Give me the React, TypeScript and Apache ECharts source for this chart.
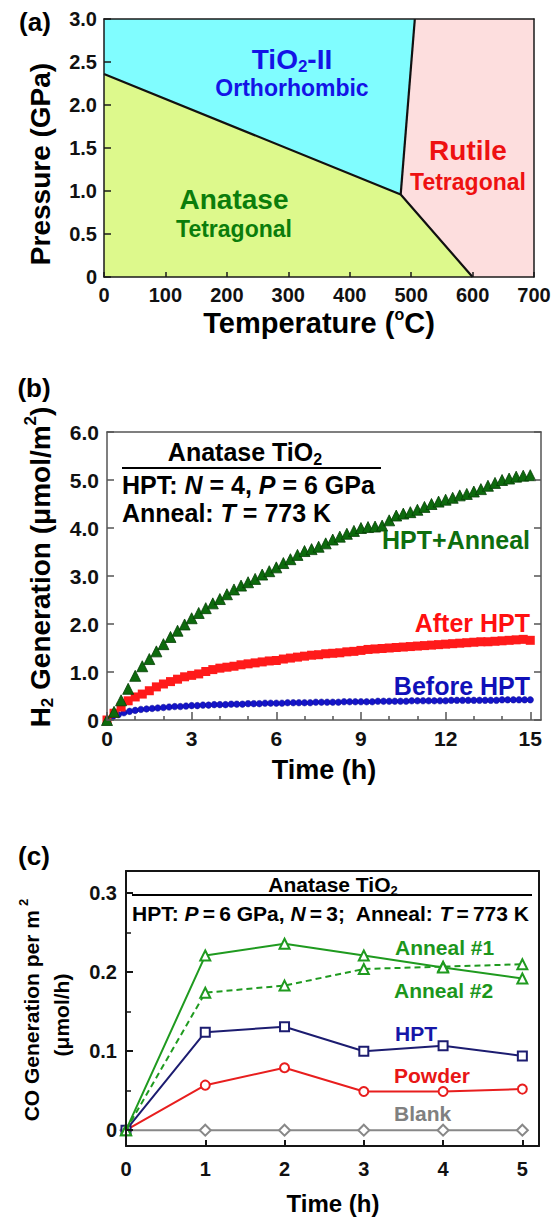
import React, { useEffect, useRef } from 'react';
import * as echarts from 'echarts';

const FONT = 'Liberation Sans, Arial, Helvetica, sans-serif';

// ---------- Panel (a): TiO2 phase diagram ----------
const phaseNames = ['Anatase', 'TiO2-II', 'Rutile'];
const anataseRegion = [[0, 0], [0, 2.36], [483, 0.96], [600, 0]];
const tio2IIRegion = [[0, 2.36], [0, 3], [506, 3], [483, 0.96]];
const rutileRegion = [[506, 3], [700, 3], [700, 0], [600, 0], [483, 0.96]];
const phaseRegions = [anataseRegion, tio2IIRegion, rutileRegion];
const phaseColors = ['#ddf98c', '#80fdff', '#fddede'];
const boundaryAnataseLow = [[0, 2.36], [483, 0.96], [600, 0]];
const boundaryRutile = [[483, 0.96], [506, 3]];

// ---------- Panel (b): H2 generation ----------
const hoursQuarter = [0, 0.25, 0.5, 0.75, 1, 1.25, 1.5, 1.75, 2, 2.25, 2.5, 2.75, 3, 3.25, 3.5, 3.75, 4, 4.25, 4.5, 4.75, 5, 5.25, 5.5, 5.75, 6, 6.25, 6.5, 6.75, 7, 7.25, 7.5, 7.75, 8, 8.25, 8.5, 8.75, 9, 9.25, 9.5, 9.75, 10, 10.25, 10.5, 10.75, 11, 11.25, 11.5, 11.75, 12, 12.25, 12.5, 12.75, 13, 13.25, 13.5, 13.75, 14, 14.25, 14.5, 14.75, 15];
const hptAnneal = [0, 0.17, 0.41, 0.65, 0.92, 1.12, 1.27, 1.43, 1.58, 1.73, 1.86, 1.99, 2.12, 2.23, 2.33, 2.43, 2.52, 2.62, 2.72, 2.80, 2.87, 2.94, 3.03, 3.10, 3.18, 3.27, 3.35, 3.44, 3.52, 3.56, 3.61, 3.68, 3.76, 3.82, 3.88, 3.94, 4.00, 4.02, 4.03, 4.05, 4.16, 4.26, 4.30, 4.33, 4.38, 4.44, 4.50, 4.55, 4.59, 4.63, 4.68, 4.71, 4.76, 4.81, 4.88, 4.94, 5.00, 5.03, 5.07, 5.09, 5.10];
const afterHpt = [0, 0.14, 0.27, 0.40, 0.48, 0.54, 0.61, 0.69, 0.75, 0.80, 0.85, 0.90, 0.93, 0.96, 1.01, 1.05, 1.08, 1.10, 1.12, 1.15, 1.17, 1.19, 1.21, 1.23, 1.24, 1.27, 1.29, 1.31, 1.33, 1.35, 1.36, 1.38, 1.39, 1.40, 1.42, 1.43, 1.45, 1.47, 1.48, 1.49, 1.50, 1.51, 1.52, 1.53, 1.54, 1.55, 1.56, 1.57, 1.58, 1.59, 1.60, 1.61, 1.62, 1.63, 1.63, 1.64, 1.65, 1.66, 1.67, 1.68, 1.66];
const hoursFifth = [0, 0.2, 0.4, 0.6, 0.8, 1, 1.2, 1.4, 1.6, 1.8, 2, 2.2, 2.4, 2.6, 2.8, 3, 3.2, 3.4, 3.6, 3.8, 4, 4.2, 4.4, 4.6, 4.8, 5, 5.2, 5.4, 5.6, 5.8, 6, 6.2, 6.4, 6.6, 6.8, 7, 7.2, 7.4, 7.6, 7.8, 8, 8.2, 8.4, 8.6, 8.8, 9, 9.2, 9.4, 9.6, 9.8, 10, 10.2, 10.4, 10.6, 10.8, 11, 11.2, 11.4, 11.6, 11.8, 12, 12.2, 12.4, 12.6, 12.8, 13, 13.2, 13.4, 13.6, 13.8, 14, 14.2, 14.4, 14.6, 14.8, 15];
const beforeHpt = [0, 0.07, 0.11, 0.15, 0.18, 0.20, 0.22, 0.23, 0.24, 0.25, 0.26, 0.27, 0.28, 0.28, 0.29, 0.30, 0.30, 0.31, 0.31, 0.32, 0.32, 0.32, 0.33, 0.33, 0.33, 0.34, 0.34, 0.34, 0.35, 0.35, 0.35, 0.35, 0.36, 0.36, 0.36, 0.36, 0.36, 0.37, 0.37, 0.37, 0.37, 0.37, 0.38, 0.38, 0.38, 0.38, 0.38, 0.38, 0.39, 0.39, 0.39, 0.39, 0.39, 0.39, 0.40, 0.40, 0.40, 0.40, 0.40, 0.40, 0.40, 0.41, 0.41, 0.41, 0.41, 0.41, 0.41, 0.41, 0.41, 0.41, 0.42, 0.42, 0.42, 0.42, 0.42, 0.42];
const bTimeLabels = [0, 3, 6, 9, 12, 15];
const bTimeMinor = [1, 2, 4, 5, 7, 8, 10, 11, 13, 14];

// ---------- Panel (c): CO generation ----------
const hoursC = [0, 1, 2, 3, 4, 5];
const anneal1 = [0, 0.221, 0.236, 0.221, 0.206, 0.192];
const anneal2 = [0, 0.174, 0.183, 0.204, 0.207, 0.210];
const hptC = [0, 0.124, 0.131, 0.100, 0.107, 0.094];
const powder = [0, 0.057, 0.079, 0.049, 0.049, 0.052];
const blank = [0, 0, 0, 0, 0, 0];
const cYLabels = [0, 0.1, 0.2, 0.3];
const cYMinor = [0.05, 0.15, 0.25];

const zip = (xs: number[], ys: number[]) => xs.map((x, i) => [x, ys[i]]);
const fmt1 = (v: number) => (Math.abs(v) < 1e-9 ? '0' : v.toFixed(1));

const fontOf = (size: number, extra: any = {}) => ({
  fontSize: size, fontWeight: 'bold', fontFamily: FONT, fontStyle: 'normal', ...extra,
});

function richFor(size: number, color: string) {
  const sub = Math.round(size * 0.62);
  return {
    n: { ...fontOf(size), fill: color },
    i: { ...fontOf(size, { fontStyle: 'italic' }), fill: color },
    sub: { ...fontOf(sub), fill: color, padding: [Math.round(size * 0.55), 0, 0, 0] },
    sup: { ...fontOf(sub), fill: color, padding: [0, 0, Math.round(size * 0.7), 0] },
    deg: { ...fontOf(Math.round(size * 0.55)), fill: color, padding: [0, 0, Math.round(size * 0.6), 0] },
  };
}

function txt(x: number, y: number, text: string, size: number, color = '#000', align = 'center', rotation = 0) {
  return {
    type: 'text', x, y, rotation, silent: true, z: 100,
    style: {
      text, fill: color, ...fontOf(size), align, verticalAlign: 'middle', rich: richFor(size, color),
    },
  };
}

function hline(x1: number, x2: number, y: number) {
  return { type: 'line', silent: true, z: 100, shape: { x1, y1: y, x2, y2: y }, style: { stroke: '#000', lineWidth: 2 } };
}

function borderAxis(gridIndex: number, position: string, color: string, width: number) {
  return {
    gridIndex, type: 'value', position, min: 0, max: 1, z: 10,
    axisLine: { show: true, onZero: false, lineStyle: { color, width } },
    axisTick: { show: false }, axisLabel: { show: false }, splitLine: { show: false },
  };
}

function buildOption() {
  const lab = { fontSize: 20, fontWeight: 'bold', fontFamily: FONT, color: '#111' };
  const colA = '#1a1a1a';
  const colB = '#555';
  const colC = '#151515';
  return {
    animation: false,
    backgroundColor: '#fff',
    grid: [
      { left: 104, top: 19, width: 430, height: 258, outerBoundsMode: 'none', containLabel: false },
      { left: 107, top: 432, width: 434, height: 288, outerBoundsMode: 'none', containLabel: false },
      { left: 126, top: 871, width: 413, height: 275, outerBoundsMode: 'none', containLabel: false },
    ],
    xAxis: [
      {
        gridIndex: 0, type: 'value', position: 'bottom', min: 0, max: 700, interval: 100, z: 10,
        axisLine: { show: true, onZero: false, lineStyle: { color: colA, width: 1.5 } },
        axisTick: { show: true, inside: true, length: 5, lineStyle: { color: colA, width: 1.5 } },
        axisLabel: { ...lab, margin: 8, showMinLabel: true, showMaxLabel: true },
        splitLine: { show: false },
      },
      borderAxis(0, 'top', colA, 1.5),
      {
        gridIndex: 1, type: 'value', position: 'bottom', min: 0, max: 15.38, z: 10,
        axisLine: { show: true, onZero: false, lineStyle: { color: colB, width: 1.5 } },
        axisTick: { show: true, inside: true, length: 8, customValues: bTimeLabels, lineStyle: { color: colB, width: 1.5 } },
        axisLabel: { ...lab, fontSize: 21, margin: 8, customValues: bTimeLabels },
        splitLine: { show: false },
      },
      {
        gridIndex: 1, type: 'value', position: 'bottom', min: 0, max: 15.38, z: 10,
        axisLine: { show: false, onZero: false },
        axisTick: { show: true, inside: true, length: 4, customValues: bTimeMinor, lineStyle: { color: colB, width: 1.5 } },
        axisLabel: { show: false },
        splitLine: { show: false },
      },
      borderAxis(1, 'top', colB, 1.5),
      {
        gridIndex: 2, type: 'value', position: 'bottom', min: 0, max: 5.21, z: 10,
        axisLine: { show: true, onZero: false, lineStyle: { color: colC, width: 2 } },
        axisTick: { show: true, inside: true, length: 6, customValues: hoursC, lineStyle: { color: colC, width: 2 } },
        axisLabel: { ...lab, margin: 13, customValues: hoursC },
        splitLine: { show: false },
      },
      borderAxis(2, 'top', colC, 2),
    ],
    yAxis: [
      {
        gridIndex: 0, type: 'value', position: 'left', min: 0, max: 3, interval: 0.5, z: 10,
        axisLine: { show: true, onZero: false, lineStyle: { color: colA, width: 1.5 } },
        axisTick: { show: true, inside: true, length: 7, lineStyle: { color: colA, width: 1.5 } },
        axisLabel: { ...lab, margin: 7, formatter: fmt1, showMinLabel: true, showMaxLabel: true },
        splitLine: { show: false },
      },
      borderAxis(0, 'right', colA, 1.5),
      {
        gridIndex: 1, type: 'value', position: 'left', min: 0, max: 6, interval: 1, z: 10,
        axisLine: { show: true, onZero: false, lineStyle: { color: colB, width: 1.5 } },
        axisTick: { show: true, inside: true, length: 7, lineStyle: { color: colB, width: 1.5 } },
        axisLabel: { ...lab, fontSize: 21, margin: 8, formatter: fmt1, showMinLabel: true, showMaxLabel: true },
        splitLine: { show: false },
      },
      {
        gridIndex: 1, type: 'value', position: 'right', min: 0, max: 6, interval: 1, z: 10,
        axisLine: { show: true, onZero: false, lineStyle: { color: colB, width: 1.5 } },
        axisTick: { show: true, inside: true, length: 7, lineStyle: { color: colB, width: 1.5 } },
        axisLabel: { show: false },
        splitLine: { show: false },
      },
      {
        gridIndex: 2, type: 'value', position: 'left', min: -0.02, max: 0.328, z: 10,
        axisLine: { show: true, onZero: false, lineStyle: { color: colC, width: 2 } },
        axisTick: { show: true, inside: true, length: 7, customValues: cYLabels, lineStyle: { color: colC, width: 2 } },
        axisLabel: { ...lab, margin: 9, customValues: cYLabels, formatter: fmt1 },
        splitLine: { show: false },
      },
      {
        gridIndex: 2, type: 'value', position: 'left', min: -0.02, max: 0.328, z: 10,
        axisLine: { show: false, onZero: false },
        axisTick: { show: true, inside: true, length: 5, customValues: cYMinor, lineStyle: { color: colC, width: 1.5 } },
        axisLabel: { show: false },
        splitLine: { show: false },
      },
      borderAxis(2, 'right', colC, 2),
    ],
    series: [
      {
        type: 'custom', name: 'phases', xAxisIndex: 0, yAxisIndex: 0, z: 2,
        data: phaseNames.map((name, i) => ({ name, value: phaseRegions[i][0] })),
        renderItem: (params: any, api: any) => {
          const region = phaseRegions[params.dataIndex];
          const points = region.map((p) => api.coord(p));
          return { type: 'polygon', shape: { points }, style: { fill: phaseColors[params.dataIndex] } };
        },
        silent: true,
      },
      {
        type: 'line', name: 'boundary1', xAxisIndex: 0, yAxisIndex: 0, z: 4,
        data: boundaryAnataseLow, showSymbol: false, symbol: 'none',
        lineStyle: { color: '#111', width: 2.2 }, silent: true,
      },
      {
        type: 'line', name: 'boundary2', xAxisIndex: 0, yAxisIndex: 0, z: 4,
        data: boundaryRutile, showSymbol: false, symbol: 'none',
        lineStyle: { color: '#111', width: 2.2 }, silent: true,
      },
      {
        type: 'scatter', name: 'Before HPT', xAxisIndex: 2, yAxisIndex: 2, z: 3,
        data: zip(hoursFifth, beforeHpt), symbol: 'circle', symbolSize: 6.5,
        itemStyle: { color: '#1414c8', borderColor: '#0a0a90', borderWidth: 0.5, opacity: 1 }, silent: true,
      },
      {
        type: 'scatter', name: 'After HPT', xAxisIndex: 2, yAxisIndex: 2, z: 4,
        data: zip(hoursQuarter, afterHpt), symbol: 'rect', symbolSize: 9,
        itemStyle: { color: '#ff1a1a', opacity: 1 }, silent: true,
      },
      {
        type: 'scatter', name: 'HPT+Anneal', xAxisIndex: 2, yAxisIndex: 2, z: 5,
        data: zip(hoursQuarter, hptAnneal), symbol: 'triangle', symbolSize: 11,
        itemStyle: { color: '#0d6a0d', borderColor: '#054005', borderWidth: 0.8, opacity: 1 }, silent: true,
      },
      {
        type: 'line', name: 'Blank', xAxisIndex: 5, yAxisIndex: 4, z: 3,
        data: zip(hoursC, blank), symbol: 'emptyDiamond', symbolSize: 11,
        lineStyle: { color: '#888', width: 2 }, itemStyle: { color: '#888', borderColor: '#888', borderWidth: 1.5 }, silent: true,
      },
      {
        type: 'line', name: 'Powder', xAxisIndex: 5, yAxisIndex: 4, z: 4,
        data: zip(hoursC, powder), symbol: 'emptyCircle', symbolSize: 9,
        lineStyle: { color: '#e81e1e', width: 2 }, itemStyle: { color: '#e81e1e', borderColor: '#e81e1e', borderWidth: 1.5 }, silent: true,
      },
      {
        type: 'line', name: 'HPT', xAxisIndex: 5, yAxisIndex: 4, z: 5,
        data: zip(hoursC, hptC), symbol: 'emptyRect', symbolSize: 9,
        lineStyle: { color: '#1c1c70', width: 2 }, itemStyle: { color: '#1c1c70', borderColor: '#1c1c70', borderWidth: 1.5 }, silent: true,
      },
      {
        type: 'line', name: 'Anneal #2', xAxisIndex: 5, yAxisIndex: 4, z: 6,
        data: zip(hoursC, anneal2), symbol: 'emptyTriangle', symbolSize: 10,
        lineStyle: { color: '#1f9a1f', width: 2, type: [6, 4] }, itemStyle: { color: '#1f9a1f', borderColor: '#1f9a1f', borderWidth: 1.5 }, silent: true,
      },
      {
        type: 'line', name: 'Anneal #1', xAxisIndex: 5, yAxisIndex: 4, z: 7,
        data: zip(hoursC, anneal1), symbol: 'emptyTriangle', symbolSize: 10,
        lineStyle: { color: '#1f9a1f', width: 2 }, itemStyle: { color: '#1f9a1f', borderColor: '#1f9a1f', borderWidth: 1.5 }, silent: true,
      },
    ],
    graphic: [
      txt(35, 22, '(a)', 26),
      txt(34, 388, '(b)', 26),
      txt(34, 856, '(c)', 26),
      txt(319, 323, 'Temperature ({deg|o}C)', 29),
      txt(40, 164, 'Pressure (GPa)', 28, '#000', 'center', Math.PI / 2),
      txt(292, 59, 'TiO{sub|2}-II', 28, '#1414e6'),
      txt(292, 88, 'Orthorhombic', 23, '#1414e6'),
      txt(468, 150, 'Rutile', 28, '#ee1111'),
      txt(468, 182, 'Tetragonal', 23, '#ee1111'),
      txt(234, 199, 'Anatase', 28, '#0b7d0b'),
      txt(234, 229, 'Tetragonal', 23, '#0b7d0b'),
      txt(324, 770, 'Time (h)', 27),
      txt(40, 567, 'H{sub|2} Generation (μmol/m{sup|2})', 28, '#000', 'center', Math.PI / 2),
      txt(245, 452, 'Anatase TiO{sub|2}', 25),
      hline(122, 381, 468),
      txt(122, 485, 'HPT: {i|N} = 4, {i|P} = 6 GPa', 25, '#000', 'left'),
      txt(122, 513, 'Anneal: {i|T} = 773 K', 25, '#000', 'left'),
      txt(530, 540, 'HPT+Anneal', 25, '#0e6e0e', 'right'),
      txt(530, 623, 'After HPT', 25, '#ff1010', 'right'),
      txt(530, 686, 'Before HPT', 25, '#1010b8', 'right'),
      txt(333, 1203, 'Time (h)', 24),
      txt(31, 1010, 'CO Generation per m\u2009{sup|2}', 21, '#000', 'center', Math.PI / 2),
      txt(61, 1015, '(μmol/h)', 21, '#000', 'center', Math.PI / 2),
      txt(333, 884, 'Anatase TiO{sub|2}', 21),
      hline(132, 532, 895),
      txt(132, 913, 'HPT: {i|P}\u2009=\u20096 GPa, {i|N}\u2009=\u20093;  Anneal: {i|T}\u2009=\u2009773 K', 21, '#000', 'left'),
      txt(395, 947, 'Anneal #1', 21, '#1c961c', 'left'),
      txt(394, 990, 'Anneal #2', 21, '#1c961c', 'left'),
      txt(395, 1033, 'HPT', 21, '#1616a8', 'left'),
      txt(394, 1075, 'Powder', 21, '#e81616', 'left'),
      txt(394, 1113, 'Blank', 21, '#808080', 'left'),
    ],
  };
}

export default function App() {
  const ref = useRef<HTMLDivElement>(null);
  useEffect(() => {
    if (!ref.current) return;
    const chart = echarts.init(ref.current, undefined, { renderer: 'svg' });
    chart.setOption(buildOption() as any);
    return () => {
      chart.dispose();
    };
  }, []);
  return (
    <div
      ref={ref}
      style={{ position: 'absolute', left: 0, top: 0, width: 556, height: 1217, background: '#fff' }}
    />
  );
}
